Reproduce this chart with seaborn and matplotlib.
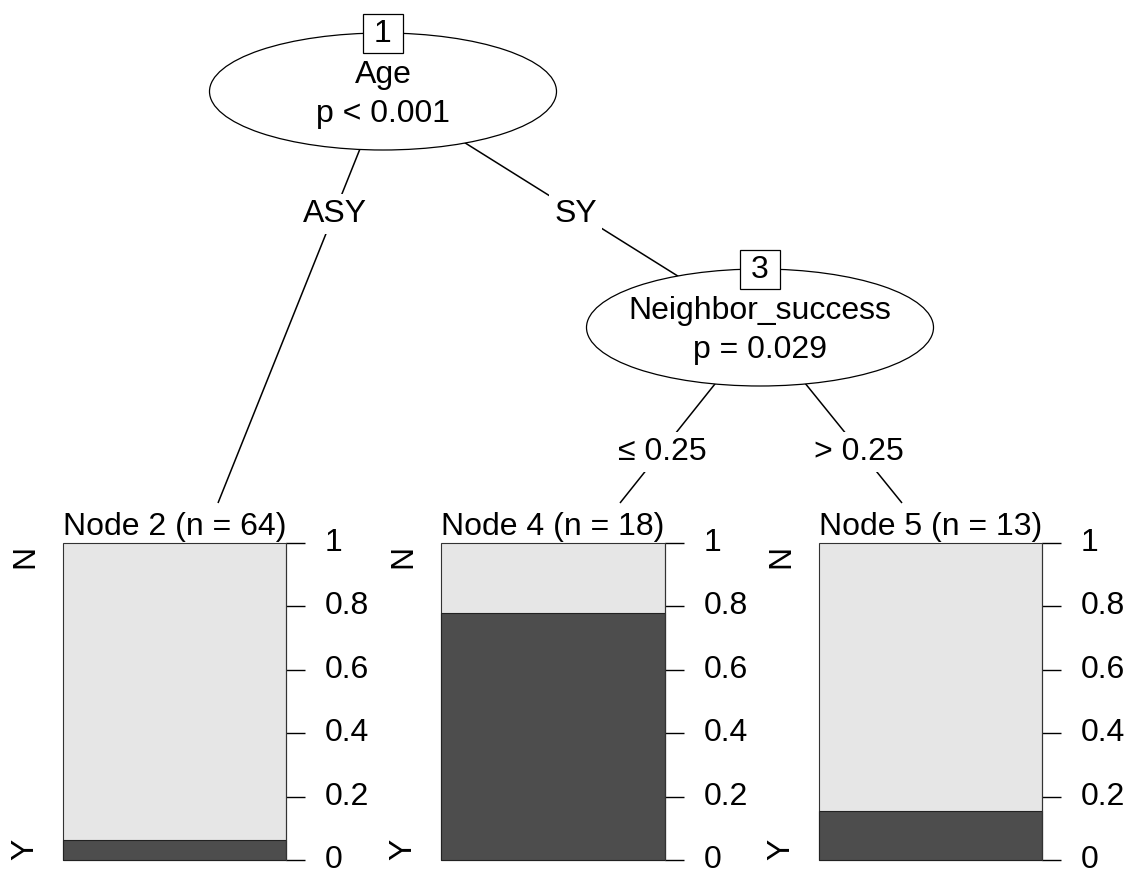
import matplotlib
matplotlib.use("Agg")
import matplotlib.pyplot as plt
from matplotlib.patches import Ellipse, Rectangle
import seaborn as sns

sns.set_style("white")
plt.rcParams['font.family'] = ['Liberation Sans', 'DejaVu Sans']
plt.rcParams['text.color'] = 'black'
plt.rcParams['ytick.color'] = 'black'

# --- data ---
inner_ids = [1, 3]
inner_vars = ["Age", "Neighbor_success"]
inner_pvals = ["p < 0.001", "p = 0.029"]

leaf_ids = [2, 4, 5]
leaf_n = [64, 18, 13]
leaf_prop_y = [0.0625, 0.778, 0.154]   # share of "Y" in each terminal node
class_levels = ["Y", "N"]

edge_from = [1, 1, 3, 3]
edge_to = [2, 3, 4, 5]
edge_labels = ["ASY", "SY", "\u2264 0.25", "> 0.25"]

ticks = [0, 0.2, 0.4, 0.6, 0.8, 1]
tick_labels = ["0", "0.2", "0.4", "0.6", "0.8", "1"]

# --- layout (pixels of the 1131x876 canvas) ---
W, H = 1131, 876
FS = 23
inner_pos = {1: (383, 91.5), 3: (760, 327.5)}
ell_w, ell_h = 347, 117
leaf_x = {2: (63, 286), 4: (441, 665), 5: (819, 1042)}
leaf_top, leaf_bottom = 543, 860
leaf_anchor = {2: (218, 503), 4: (620, 503), 5: (902, 503)}
label_y = {1: 222, 3: 460}

dark, light = "#4D4D4D", "#E6E6E6"

fig = plt.figure(figsize=(W / 100, H / 100), dpi=100)
tree = fig.add_axes([0, 0, 1, 1])
tree.set_xlim(0, W)
tree.set_ylim(H, 0)
tree.axis("off")

# edges with labels
for a, b, lab in zip(edge_from, edge_to, edge_labels):
    x0, y0 = inner_pos[a]
    x1, y1 = inner_pos[b] if b in inner_pos else leaf_anchor[b]
    tree.plot([x0, x1], [y0, y1], color="black", lw=1.1, zorder=1,
              solid_capstyle="butt")
    ly = label_y[a]
    lx = x0 + (x1 - x0) * (ly - 10 - y0) / (y1 - y0)
    tree.text(lx, ly, lab, fontsize=FS, ha="center", va="baseline", zorder=4,
              bbox=dict(facecolor="white", edgecolor="none", pad=4))

# inner nodes
for nid, var, pv in zip(inner_ids, inner_vars, inner_pvals):
    cx, cy = inner_pos[nid]
    tree.add_patch(Ellipse((cx, cy), ell_w, ell_h, facecolor="white",
                           edgecolor="black", lw=0.9, zorder=2))
    top = cy - ell_h / 2
    tree.add_patch(Rectangle((cx - 20, top - 19.5), 40, 39, facecolor="white",
                             edgecolor="black", lw=0.9, zorder=3))
    tree.text(cx, top + 1, str(nid), fontsize=FS, ha="center", va="center", zorder=4)
    tree.text(cx, cy - 8, var, fontsize=FS, ha="center", va="baseline", zorder=4)
    tree.text(cx, cy + 30.5, pv, fontsize=FS, ha="center", va="baseline", zorder=4)

# terminal nodes
for nid, n, py in zip(leaf_ids, leaf_n, leaf_prop_y):
    x0, x1 = leaf_x[nid]
    ax = fig.add_axes([x0 / W, 1 - leaf_bottom / H, (x1 - x0) / W,
                       (leaf_bottom - leaf_top) / H])
    ax.set_facecolor("none")
    sns.barplot(x=["all"], y=[1.0], color=light, width=1, saturation=1,
                edgecolor="#333333", linewidth=0.8, ax=ax)
    sns.barplot(x=["all"], y=[py], color=dark, width=1, saturation=1,
                edgecolor="#222222", linewidth=0.8, ax=ax)
    for p in ax.patches:
        p.set_clip_on(False)
    ax.set_xlim(-0.5, 0.5)
    ax.set_ylim(0, 1)
    ax.set_xlabel("")
    ax.set_ylabel("")
    ax.set_xticks([])
    for s in ["left", "top", "bottom"]:
        ax.spines[s].set_visible(False)
    ax.spines["right"].set_color("#333333")
    ax.spines["right"].set_linewidth(0.8)
    ax.yaxis.tick_right()
    ax.set_yticks(ticks)
    ax.set_yticklabels(tick_labels, va="center")
    ax.tick_params(axis="y", direction="out", length=13.7, width=1.0,
                   pad=14, labelsize=FS, colors="black", right=True)
    ax.set_title(f"Node {nid} (n = {n})", fontsize=FS, pad=5.8, color="black")
    for lev, yy in zip(class_levels, [0.032, 0.959]):
        ax.annotate(lev, xy=(0, yy), xycoords="axes fraction", xytext=(-38, 0),
                    textcoords="offset pixels", rotation=90, ha="center",
                    va="center", fontsize=FS, color="black")

fig.savefig("out.png", dpi=100)
